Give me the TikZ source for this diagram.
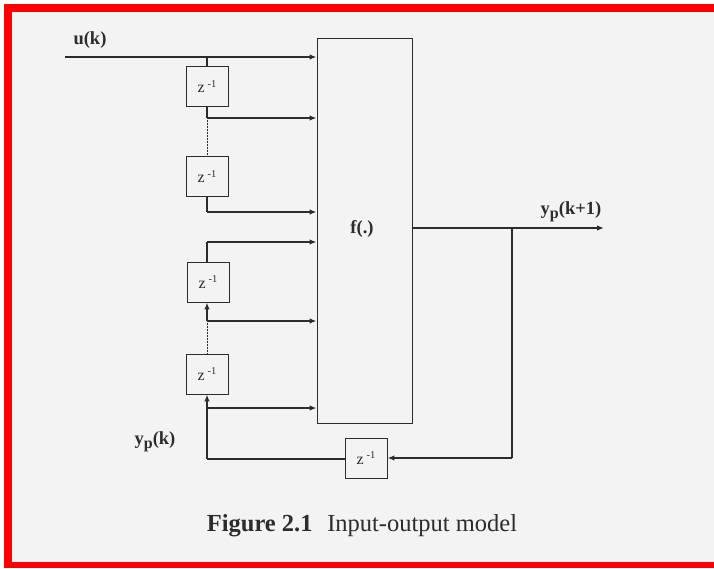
\documentclass[tikz,border=0pt]{standalone}
\usepackage{fontspec}
\setmainfont{Liberation Serif}
\usetikzlibrary{arrows.meta}
\definecolor{ink}{HTML}{2C2C2C}
\definecolor{paper}{HTML}{F3F3F3}
\definecolor{frame}{HTML}{FF0000}
\newcommand{\zinv}{z\,\raisebox{0.75ex}{\fontsize{10.5}{11}\selectfont -1}}
\newcommand{\ypsub}{y\raisebox{-0.45ex}{\fontsize{16}{17}\selectfont p}}
\begin{document}
\begin{tikzpicture}[x=1pt,y=-1pt,
  delay/.style={draw=ink, line width=0.9pt, minimum width=42pt, minimum height=40pt,
    inner sep=0pt, text=ink, font=\fontsize{16}{18}\selectfont},
  fblock/.style={draw=ink, line width=0.9pt, minimum width=95pt, minimum height=385pt, inner sep=0pt},
  sig/.style={draw=ink, line width=1.8pt},
  arr/.style={sig, -{Latex[length=7pt,width=5.5pt]}},
  dots/.style={draw=ink, line width=0.5pt, densely dotted},
  lbl/.style={text=ink, font=\fontsize{18.5}{20}\selectfont\bfseries, inner sep=0pt}]
\useasboundingbox (0,0) rectangle (714,568);
\fill[white] (0,0) rectangle (714,568);
\fill[paper] (12,12) rectangle (714,562);
\fill[frame] (4,4) rectangle (714,12);
\fill[frame] (4,4) rectangle (12,568);
\fill[frame] (4,562) rectangle (714,568);

% blocks
\node[fblock] (f) at (364.5,230.5) {};
\node[lbl] (flab) at (362,229) {f(.)};
\node[delay] (d1) at (207,86.5) {\zinv};
\node[delay] (d2) at (207,176.5) {\zinv};
\node[delay] (d3) at (208,282) {\zinv};
\node[delay] (d4) at (207,374) {\zinv};
\node[delay] (d5) at (366,458) {\zinv};

% coordinates
\coordinate (uin) at (65,57);
\coordinate (b1) at (207,118);
\coordinate (b2) at (207,212);
\coordinate (b3) at (207,242);
\coordinate (b4) at (207,321);
\coordinate (b5) at (207,408);
\coordinate (b6) at (207,459);
\coordinate (yo) at (412,228);
\coordinate (yend) at (604,228);
\coordinate (fb) at (512,228);

% labels
\node[lbl] (ulab) at (90,40) {u(k)};
\node[lbl] (yk1) at (571,212) {\ypsub(k+1)};
\node[lbl] (yk) at (155,442) {\ypsub(k)};

% u(k) path
\draw[arr] (uin) -- (uin -| f.west);
\draw[sig] (d1.north) -- (d1.north |- uin);
\draw[sig] (d1.south) -- (b1);
\draw[arr] (b1) -- (b1 -| f.west);
\draw[dots] (b1) -- (d2.north);
\draw[sig] (d2.south) -- (b2);
\draw[arr] (b2) -- (b2 -| f.west);

% y path
\draw[sig] (d3.north -| b3) -- (b3);
\draw[arr] (b3) -- (b3 -| f.west);
\draw[arr] (b4) -- (b4 |- d3.south);
\draw[arr] (b4) -- (b4 -| f.west);
\draw[dots] (b4) -- (b4 |- d4.north);
\draw[arr] (b6) -- (b6 |- d4.south);
\draw[arr] (b5) -- (b5 -| f.west);
\draw[sig] (b6) -- (b6 -| d5.west);

% output and feedback
\draw[arr] (yo) -- (yend);
\draw[sig] (fb) -- (fb |- d5.east);
\draw[arr] (fb |- d5.east) -- (d5.east);

% caption
\node[text=ink, inner sep=0pt] (cap) at (362,526)
  {\fontsize{24.5}{28}\selectfont\textbf{Figure 2.1}\hspace{0.6em}Input-output model};
\end{tikzpicture}
\end{document}
